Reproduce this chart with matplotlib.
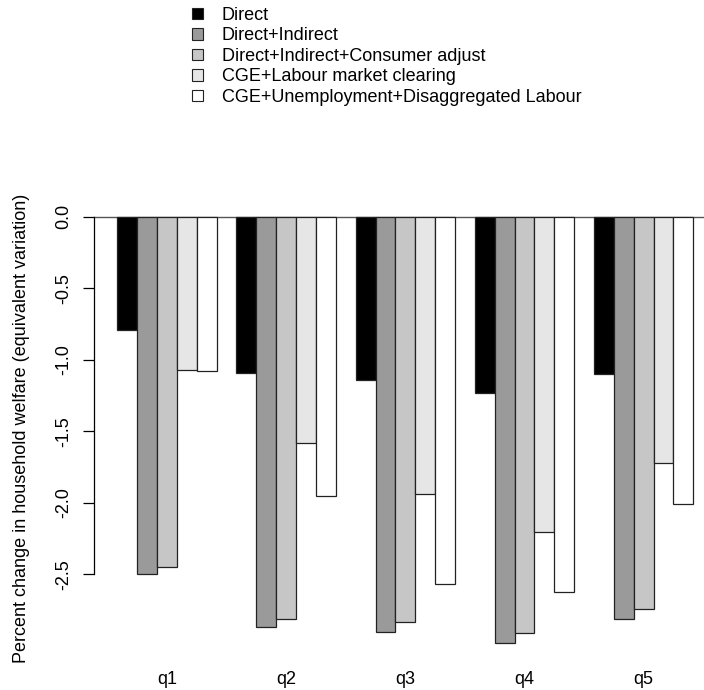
import matplotlib
matplotlib.use('Agg')
import matplotlib.pyplot as plt
import numpy as np
from matplotlib.patches import Patch

plt.rcParams['font.family'] = ['Liberation Sans', 'DejaVu Sans']

quintiles = ['q1', 'q2', 'q3', 'q4', 'q5']
scenarios = [
    'Direct',
    'Direct+Indirect',
    'Direct+Indirect+Consumer adjust',
    'CGE+Labour market clearing',
    'CGE+Unemployment+Disaggregated Labour',
]
colors = ['#000000', '#9a9a9a', '#c6c6c6', '#e6e6e6', '#ffffff']

# percent change in welfare, one list per scenario (q1..q5)
direct = [-0.79, -1.09, -1.14, -1.23, -1.10]
direct_indirect = [-2.50, -2.87, -2.90, -2.98, -2.81]
consumer_adjust = [-2.45, -2.81, -2.83, -2.91, -2.74]
cge_clearing = [-1.07, -1.58, -1.94, -2.20, -1.72]
cge_unemployment = [-1.08, -1.95, -2.57, -2.62, -2.01]

series = [direct, direct_indirect, consumer_adjust, cge_clearing, cge_unemployment]

FS = 13

fig = plt.figure(figsize=(7.04, 6.9), dpi=100)
W, H = 704., 690.
ax = fig.add_axes([94.3 / W, 1 - 660.9 / H, (704 - 94.3) / W, (660.9 - 199.6) / H])

n = len(series)
group_start = 1 + np.arange(len(quintiles)) * (n + 1)
for i, vals in enumerate(series):
    ax.bar(group_start + i, vals, width=1.0, align='edge', color=colors[i],
           edgecolor='#222222', linewidth=0.9, zorder=2)

ax.axhline(0, color='#555555', linewidth=1.0, zorder=1)

ax.set_xlim(-0.16, 30.54)
ax.set_ylim(-3.104, 0.119)

for s in ['top', 'right', 'bottom']:
    ax.spines[s].set_visible(False)
ax.spines['left'].set_bounds(-2.5, 0)
ax.spines['left'].set_linewidth(0.9)

yt = np.arange(0, -2.51, -0.5)
ax.set_yticks(yt)
ax.set_yticklabels(['%.1f' % v for v in yt], rotation=90, va='center')
ax.tick_params(axis='y', length=8, width=0.9, pad=8, labelsize=FS)

ax.set_xticks(group_start + n / 2.0)
ax.set_xticklabels(quintiles)
ax.tick_params(axis='x', length=0, pad=7, labelsize=FS)

fig.text(22 / W, 1 - 428 / H,
         'Percent change in household welfare (equivalent variation)',
         rotation=90, ha='center', va='center', fontsize=FS)

handles = [Patch(facecolor=c, edgecolor='#222222', linewidth=0.8) for c in colors]
fig.legend(handles, scenarios, loc='upper left',
           bbox_to_anchor=(192 / W, 1 - 7 / H), frameon=False,
           fontsize=FS, handlelength=0.6, handleheight=0.6,
           handletextpad=1.05, labelspacing=0.19, borderpad=0,
           borderaxespad=0)

fig.savefig('out.png', dpi=100)
